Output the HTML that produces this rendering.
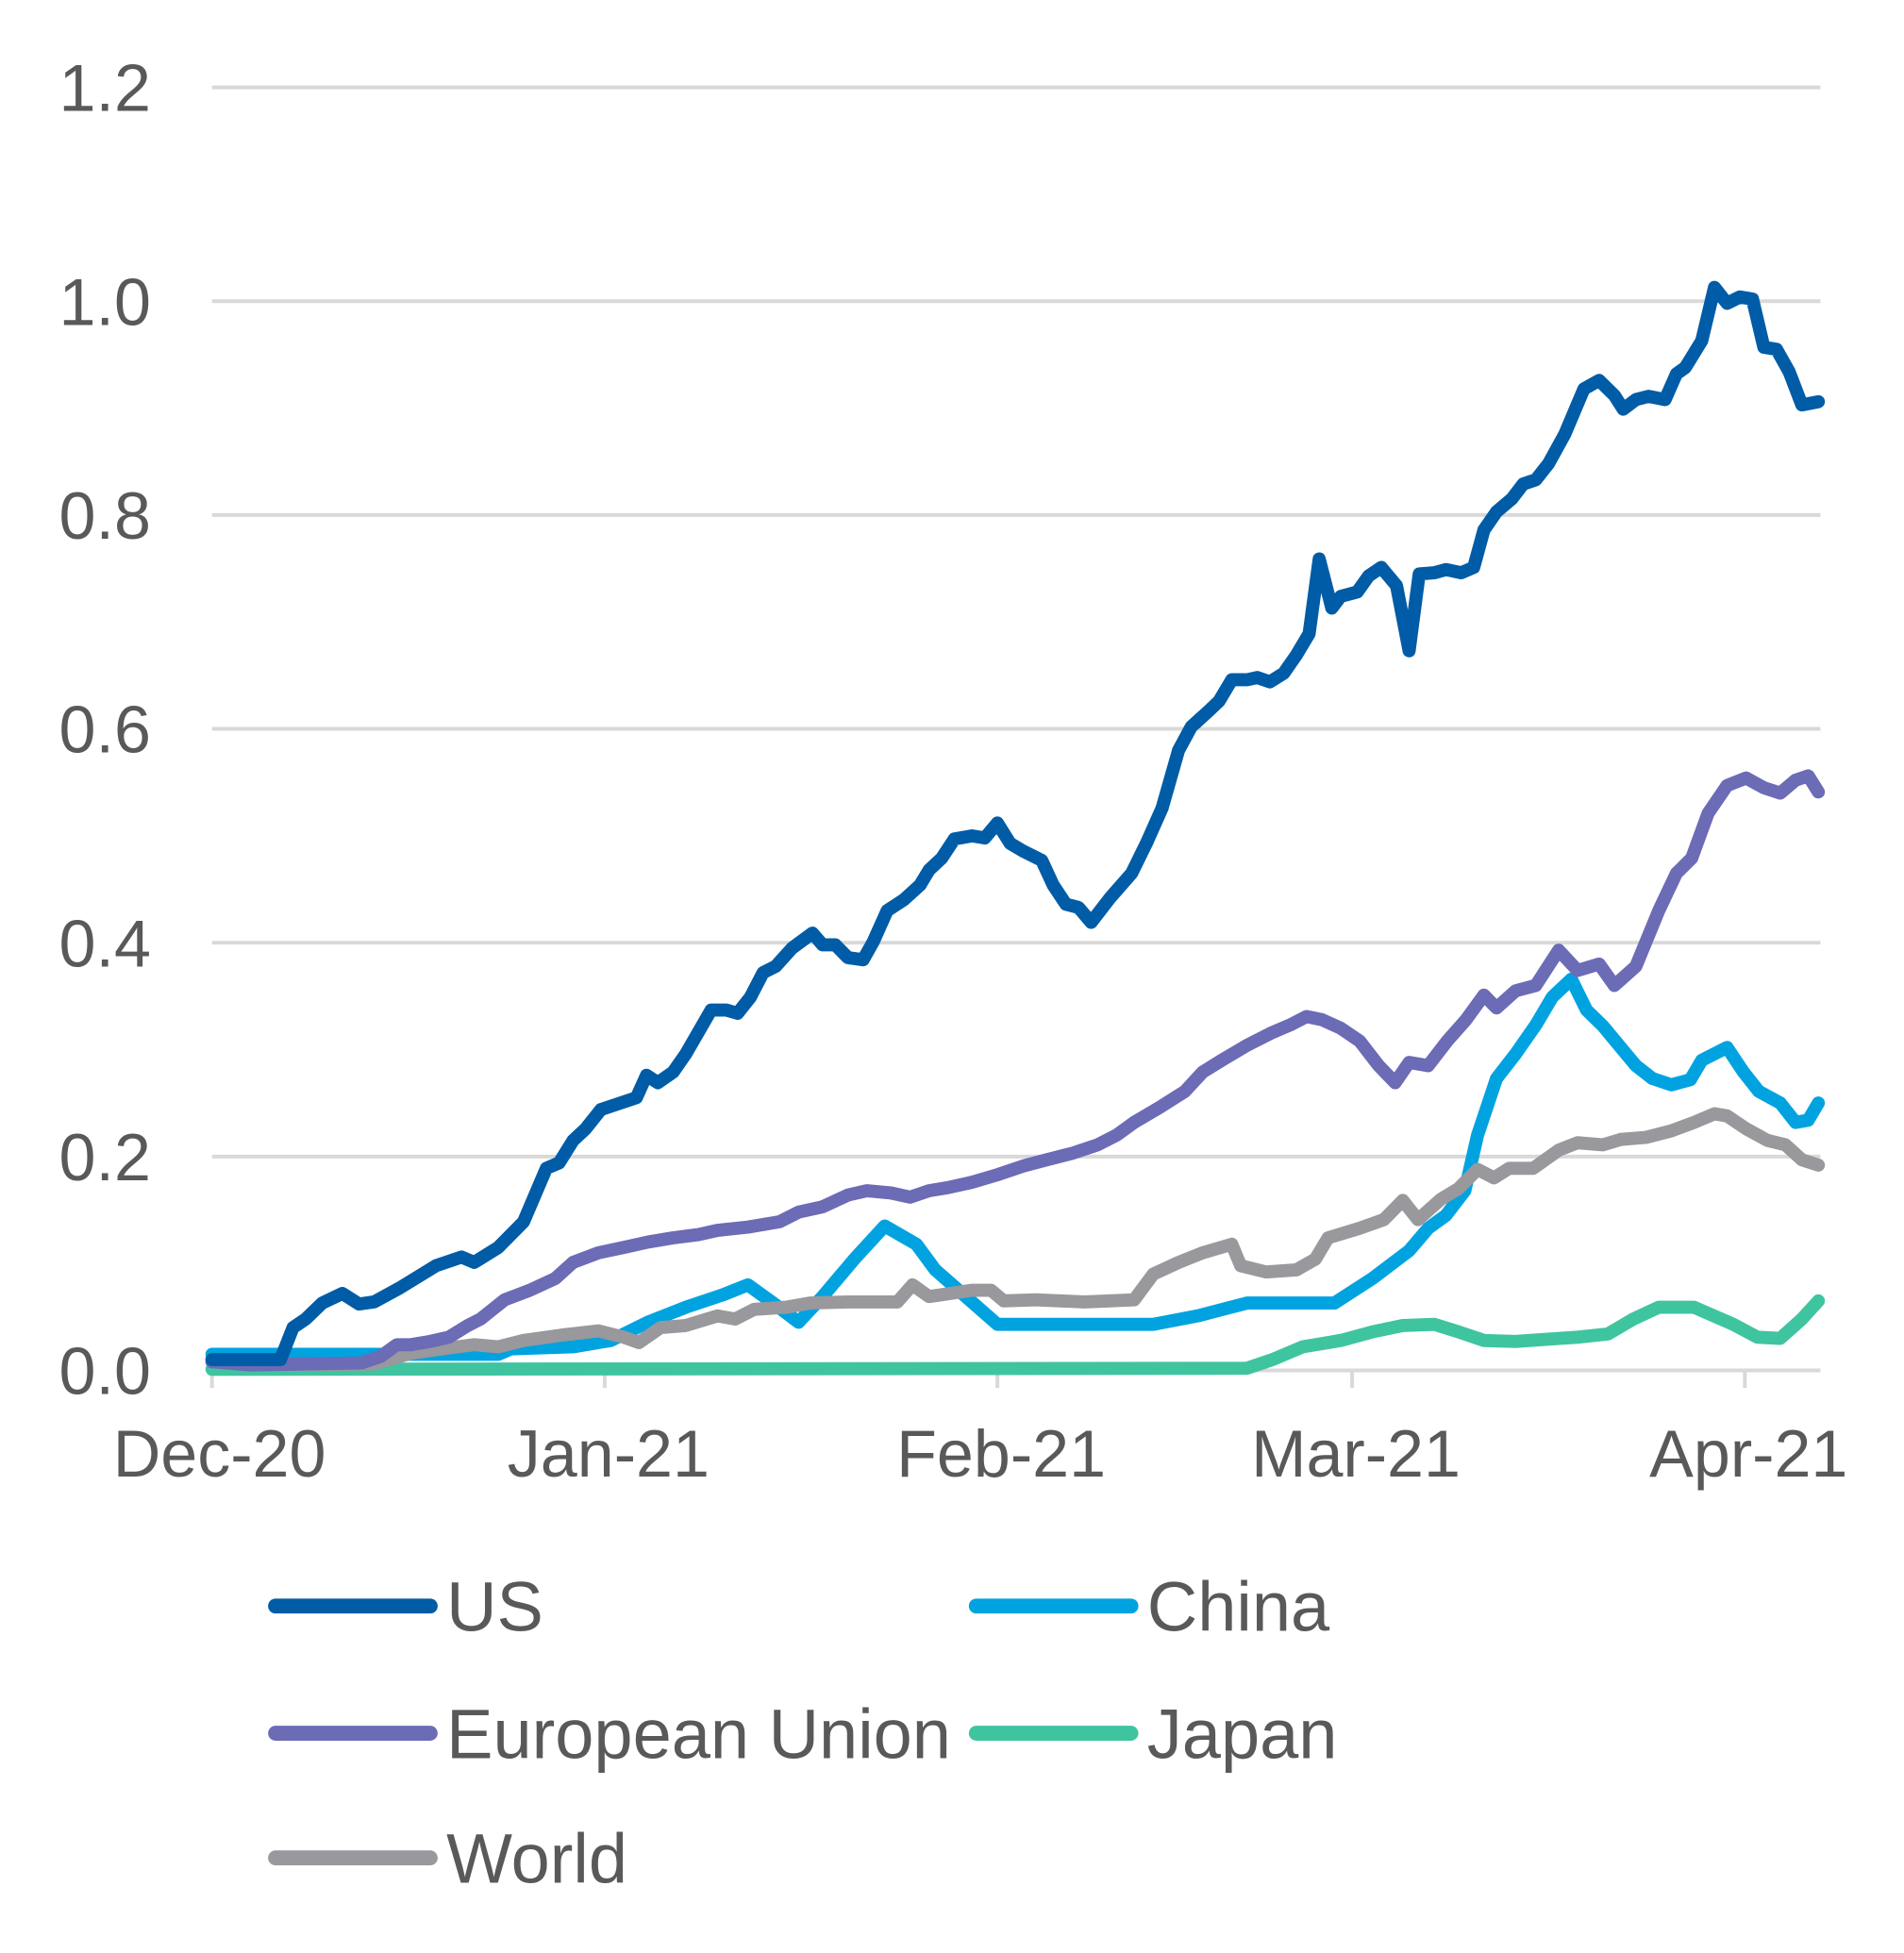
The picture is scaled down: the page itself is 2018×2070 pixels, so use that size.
<!DOCTYPE html>
<html><head><meta charset="utf-8"><style>
html,body{margin:0;padding:0;background:#fff;}
svg{display:block;font-family:"Liberation Sans",Arial,sans-serif;}
</style></head><body>
<svg id="chart" width="2018" height="2070" viewBox="0 0 1527 1566.2" xmlns="http://www.w3.org/2000/svg">
<g id="grid"></g>
<g id="yaxis"></g>
<g id="xaxis"></g>
<g id="series"></g>
<g id="legend"></g>
</svg>
<script>
const yTicks = [0, 0.2, 0.4, 0.6, 0.8, 1.0, 1.2];
const monthLabels = ["Dec-20", "Jan-21", "Feb-21", "Mar-21", "Apr-21"];
const monthDays = [0, 31, 62, 90, 121];
const seriesNames = ["US", "China", "European Union", "Japan", "World"];
const usDays = [0,5.4,6.4,7.4,8.7,10.3,11.6,12.8,14.8,17.7,19.7,20.7,22.6,24.6,26.4,27.4,28.5,29.5,30.7,33.5,34.3,35.2,36.4,37.4,39.4,40.6,41.5,42.5,43.5,44.5,45.8,47.4,48.2,49.2,50.2,51.4,52.2,53.3,54.6,55.9,56.6,57.6,58.6,60.0,61.0,62.0,63.0,64.0,65.5,66.4,67.4,68.4,69.4,70.9,72.6,73.8,75.0,76.3,77.3,78.7,79.5,80.5,81.7,82.5,83.5,84.6,85.6,86.6,87.4,88.4,89.1,90.4,91.3,92.3,93.5,94.5,95.3,96.5,97.4,98.6,99.6,100.4,101.4,102.6,103.5,104.5,105.5,106.8,108.3,109.5,110.7,111.4,112.4,113.4,114.7,115.6,116.3,117.6,118.6,119.6,120.6,121.6,122.5,123.5,124.5,125.5,126.8];
const usValues = [0.010,0.010,0.040,0.048,0.063,0.072,0.062,0.064,0.077,0.098,0.106,0.101,0.115,0.139,0.189,0.194,0.215,0.226,0.244,0.255,0.276,0.269,0.279,0.296,0.337,0.337,0.334,0.349,0.372,0.378,0.395,0.409,0.398,0.398,0.386,0.384,0.401,0.430,0.440,0.454,0.468,0.479,0.497,0.500,0.498,0.512,0.493,0.486,0.477,0.454,0.436,0.433,0.419,0.442,0.465,0.494,0.526,0.580,0.602,0.617,0.626,0.646,0.646,0.648,0.644,0.652,0.669,0.689,0.759,0.713,0.724,0.728,0.743,0.751,0.734,0.673,0.745,0.746,0.749,0.746,0.751,0.786,0.803,0.815,0.829,0.833,0.848,0.876,0.918,0.926,0.912,0.899,0.908,0.911,0.908,0.932,0.938,0.963,1.013,0.998,1.004,1.002,0.957,0.955,0.934,0.903,0.906];
const euDays = [0,3.0,11.8,13.3,14.6,15.7,17.2,18.7,20.2,21.2,23.1,25.1,27.1,28.5,30.5,32.5,34.4,36.4,38.4,39.9,42.3,44.8,46.3,48.2,50.2,51.7,53.6,55.1,56.6,58.1,60.0,62.0,64.0,65.9,67.9,69.9,71.4,72.8,74.8,76.8,78.2,79.7,81.7,83.7,85.1,86.4,87.6,89.1,90.6,92.1,93.4,94.5,96.0,97.5,99.0,100.4,101.4,102.9,104.5,106.3,107.8,109.5,110.7,112.4,114.2,115.6,116.8,118.1,119.6,121.1,122.5,123.8,125.0,126.0,126.8];
const euValues = [0.008,0.005,0.007,0.013,0.024,0.024,0.027,0.031,0.042,0.048,0.066,0.075,0.086,0.101,0.110,0.115,0.120,0.124,0.127,0.131,0.134,0.139,0.148,0.153,0.164,0.168,0.166,0.162,0.168,0.171,0.176,0.183,0.191,0.197,0.203,0.211,0.220,0.232,0.246,0.261,0.279,0.290,0.304,0.316,0.323,0.331,0.328,0.320,0.308,0.285,0.269,0.288,0.285,0.308,0.328,0.351,0.339,0.355,0.360,0.393,0.374,0.380,0.360,0.378,0.430,0.465,0.479,0.521,0.547,0.554,0.545,0.540,0.552,0.556,0.541];
const chinaDays = [0,22.6,23.6,28.5,31.5,34.4,37.4,40.4,42.3,44.3,46.3,48.2,50.7,53.1,55.6,57.1,59.5,62.0,66.9,74.3,77.8,81.7,88.6,91.6,94.5,96.0,97.4,98.9,99.9,101.4,102.9,104.5,105.8,107.3,108.5,109.8,111.2,112.4,113.7,115.2,116.7,117.6,119.6,120.9,122.1,123.8,125.0,126.0,126.8];
const chinaValues = [0.015,0.015,0.020,0.022,0.028,0.045,0.059,0.071,0.080,0.063,0.045,0.069,0.104,0.135,0.118,0.094,0.069,0.043,0.043,0.043,0.051,0.063,0.063,0.086,0.112,0.133,0.145,0.168,0.220,0.273,0.296,0.323,0.349,0.366,0.337,0.322,0.302,0.285,0.273,0.267,0.272,0.290,0.302,0.279,0.261,0.250,0.232,0.234,0.250];
const japanDays = [0,81.7,83.7,86.1,89.1,91.6,94.0,96.5,98.4,100.4,102.9,105.3,107.8,110.2,112.2,114.2,117.0,120.1,122.0,123.8,125.5,126.8];
const japanValues = [0.001,0.002,0.010,0.022,0.028,0.036,0.042,0.043,0.036,0.028,0.027,0.029,0.031,0.034,0.048,0.059,0.059,0.043,0.031,0.030,0.048,0.065];
const worldDays = [0,3.0,12.8,15.7,18.7,20.7,22.6,24.6,27.6,30.5,32.5,33.7,35.4,37.4,39.9,41.3,42.8,45.3,47.2,50.2,54.1,55.3,56.6,60.0,61.5,62.5,65.0,68.9,72.8,74.3,76.3,78.2,80.5,81.2,83.2,85.6,87.1,88.1,90.6,92.5,94.0,95.2,97.0,98.4,99.9,101.2,102.4,104.3,106.3,107.8,109.8,111.2,113.2,115.2,117.0,118.6,119.6,121.1,122.8,124.2,125.5,126.8];
const worldValues = [0.010,0.005,0.006,0.016,0.021,0.024,0.022,0.028,0.033,0.037,0.031,0.026,0.040,0.042,0.051,0.048,0.057,0.059,0.063,0.064,0.064,0.080,0.069,0.075,0.075,0.065,0.066,0.064,0.066,0.090,0.101,0.110,0.118,0.098,0.092,0.094,0.104,0.124,0.133,0.141,0.159,0.141,0.160,0.170,0.188,0.180,0.189,0.189,0.206,0.213,0.211,0.216,0.218,0.224,0.232,0.240,0.238,0.226,0.215,0.211,0.197,0.192];

const NS = "http://www.w3.org/2000/svg";
const X0 = 170, PX_PER_DAY = 10.16, Y0 = 1099, PX_PER_UNIT = 857.5, XR = 1460;
function xScale(d){ return X0 + d * PX_PER_DAY; }
function yScale(v){ return Y0 - v * PX_PER_UNIT; }
function mk(tag, attrs, parent){
  const e = document.createElementNS(NS, tag);
  for (const k in attrs) e.setAttribute(k, attrs[k]);
  parent.appendChild(e);
  return e;
}
const grid = document.getElementById('grid');
const yaxis = document.getElementById('yaxis');
const xaxis = document.getElementById('xaxis');
const seriesG = document.getElementById('series');
const legend = document.getElementById('legend');

yTicks.forEach(function(t){
  if (t > 0) {
    const l = mk('line', {x1: X0, x2: XR, y1: yScale(t), y2: yScale(t), stroke: '#d9d9d9', 'stroke-width': 3}, grid);
    
    
  }
  const tx = mk('text', {x: 121, y: yScale(t) + 19, 'text-anchor': 'end', 'font-size': 53, fill: '#595959'}, yaxis);
  tx.textContent = t.toFixed(1);
  
  
});
const ax = mk('line', {x1: X0, x2: XR, y1: Y0, y2: Y0, stroke: '#d9d9d9', 'stroke-width': 3}, xaxis);


monthDays.forEach(function(d, i){
  const x = xScale(d);
  const tk = mk('line', {x1: x, x2: x, y1: Y0, y2: Y0 + 14, stroke: '#d9d9d9', 'stroke-width': 3}, xaxis);
  
  
  const tx = mk('text', {x: x + (i === 0 ? 6 : 3), y: 1184, 'text-anchor': 'middle', 'font-size': 53, fill: '#595959'}, xaxis);
  tx.textContent = monthLabels[i];
  
  
});

const colors = ["#005ca6", "#00a3e0", "#6b6bb6", "#3fc4a0", "#98989d"];
const allDays = [usDays, chinaDays, euDays, japanDays, worldDays];
const allVals = [usValues, chinaValues, euValues, japanValues, worldValues];
const drawOrder = [3, 1, 4, 2, 0];
const slugs = ["us", "china", "european-union", "japan", "world"];
drawOrder.forEach(function(i){
  const pts = allDays[i].map(function(d, j){ return xScale(d).toFixed(1) + ',' + yScale(allVals[i][j]).toFixed(1); }).join(' ');
  const pl = mk('polyline', {points: pts, fill: 'none', stroke: colors[i], 'stroke-width': 10.5, 'stroke-linejoin': 'round', 'stroke-linecap': 'round'}, seriesG);
  
  
});

const legPos = [[221, 1288], [783, 1288], [221, 1390], [783, 1390], [221, 1490]];
seriesNames.forEach(function(n, i){
  const g = mk('g', {}, legend);
  
  
  const p = legPos[i];
  mk('line', {x1: p[0], x2: p[0] + 124, y1: p[1], y2: p[1], stroke: colors[i], 'stroke-width': 12, 'stroke-linecap': 'round'}, g);
  const t = mk('text', {x: p[0] + 137, y: p[1] + 20, 'font-size': 56, fill: '#595959'}, g);
  t.textContent = n;
});
</script>
</body></html>
